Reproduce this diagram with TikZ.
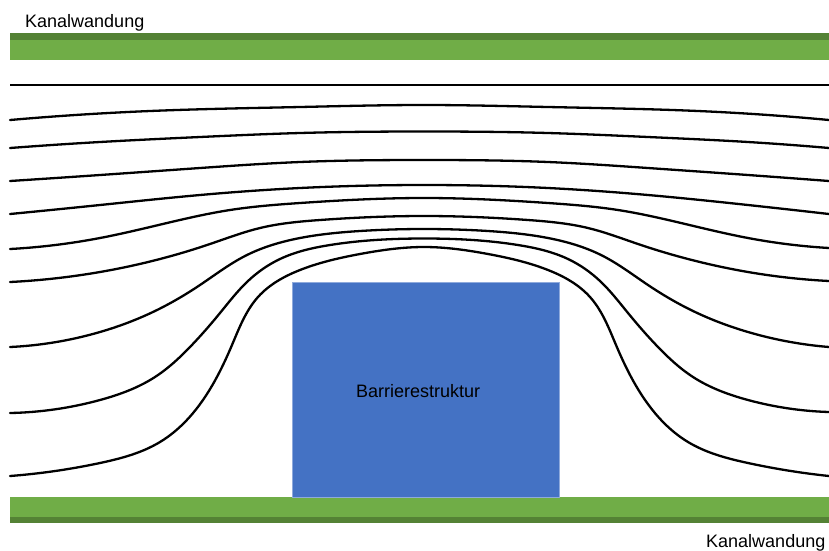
\documentclass[tikz,border=0pt]{standalone}
\usepackage{fontspec}
\setmainfont{Liberation Sans}
\usetikzlibrary{hobby}
\definecolor{wallgreen}{HTML}{70AD47}
\definecolor{walldark}{HTML}{548235}
\definecolor{blockblue}{HTML}{4472C4}
\definecolor{blockedge}{HTML}{8FAADC}
\begin{document}
\begin{tikzpicture}[x=1pt,y=-1pt,
  stream/.style={line width=2.3pt, black, line cap=round, use Hobby shortcut},
  lbl/.style={inner sep=0pt, font=\fontsize{18}{20}\selectfont}]
\useasboundingbox (0,0) rectangle (829,550);
% walls
\fill[walldark] (10,33) rectangle (829,39.5);
\fill[wallgreen] (10,39.5) rectangle (829,59.5);
\fill[wallgreen] (10,497) rectangle (829,517);
\fill[walldark] (10,517) rectangle (829,523);
% barrier
\filldraw[fill=blockblue, draw=blockedge, line width=0.8pt] (292,282) rectangle (559,497);
% streamlines
\draw[line width=2.3pt, black] (10,85) -- (829,85);
\draw[stream] (10,120) .. (150,111) .. (300,107) .. (424,105) .. (548,107) .. (698,111) .. (829,120);
\draw[stream] (10,148) .. (100,142) .. (200,137) .. (300,133) .. (424,131.5) .. (548,133) .. (648,137) .. (748,142) .. (829,148);
\draw[stream] (10,181) .. (100,175) .. (200,168) .. (300,162) .. (424,160) .. (548,162) .. (648,168) .. (748,175) .. (829,181);
\draw[stream] (10,214) .. (100,205) .. (200,195) .. (300,188) .. (424,185) .. (548,188) .. (648,195) .. (748,205) .. (829,214);
\draw[stream] (10,249) .. (100,238) .. (167,223) .. (230,210) .. (300,203) .. (424,198) .. (548,203) .. (618,210) .. (681,223) .. (748,238) .. (829,248);
\draw[stream] (10,282) .. (100,272) .. (160,259) .. (210,244) .. (260,228) .. (320,220) .. (424,216) .. (528,220) .. (588,228) .. (638,244) .. (688,259) .. (748,272) .. (829,281);
\draw[stream] (10,347) .. (100,332) .. (155,311) .. (200,285) .. (245,256) .. (300,238) .. (360,231) .. (424,229) .. (488,231) .. (548,238) .. (603,256) .. (648,285) .. (693,311) .. (748,332) .. (829,347);
\draw[stream] (10,413) .. (100,400) .. (155,377) .. (190,347) .. (220,313) .. (248,281) .. (280,259) .. (330,245) .. (424,238.5) .. (518,245) .. (568,259) .. (600,281) .. (628,313) .. (658,347) .. (693,377) .. (748,400) .. (829,412);
\draw[stream] (10,476) .. (100,463) .. (160,442) .. (205,397) .. (232,345) .. (258,297) .. (300,270) .. (360,254) .. (424,247) .. (488,254) .. (548,270) .. (590,297) .. (616,345) .. (643,397) .. (688,442) .. (748,463) .. (829,476);
% labels
\node[lbl, anchor=base west] (topwall) at (25,27) {Kanalwandung};
\node[lbl, anchor=base west] (botwall) at (706,547) {Kanalwandung};
\node[lbl, anchor=base west] (barrier) at (356,397) {Barrierestruktur};
\end{tikzpicture}
\end{document}
